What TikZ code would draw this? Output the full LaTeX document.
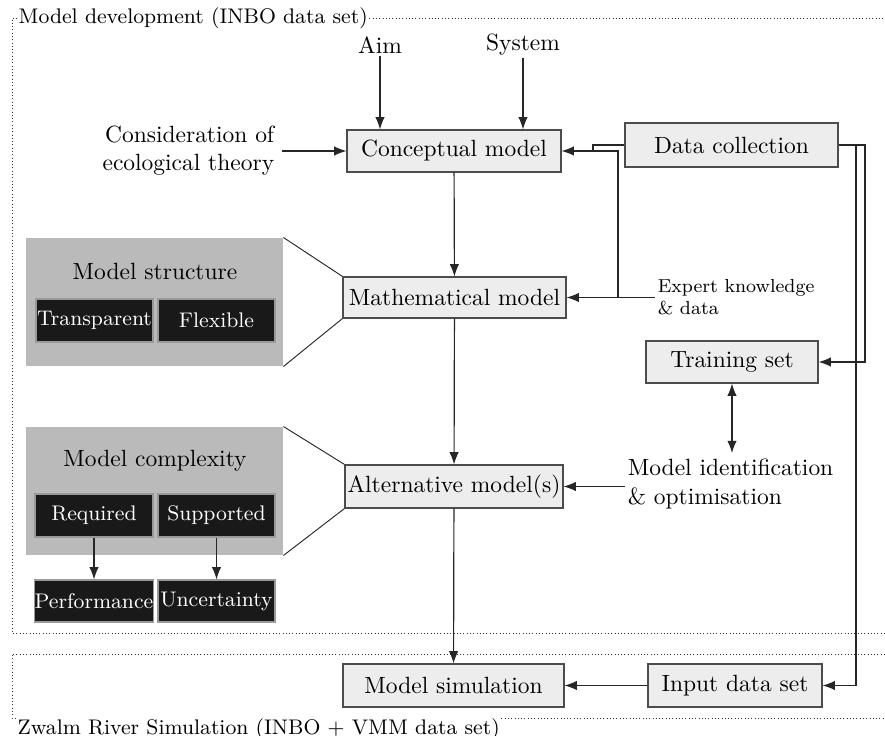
\documentclass[tikz,border=0pt]{standalone}
\usetikzlibrary{arrows.meta}
\newcommand{\pxu}[1]{#1*0.426pt}
\begin{document}
\begin{tikzpicture}[x=0.426pt,y=-0.426pt,
  box/.style={draw=black!70, fill=black!7, line width=0.5pt, inner sep=0pt, font=\normalsize},
  panel/.style={fill=black!27, draw=none, inner sep=0pt},
  dark/.style={fill=black!90, draw=black!40, line width=0.5pt, text=white, inner sep=0pt, font=\small},
  plain/.style={inner sep=1pt, font=\normalsize},
  tip/.tip={Latex[length=5.2pt,width=4pt]},
  arr/.style={-tip, line width=0.5pt, draw=black!85},
  conn/.style={line width=0.5pt, draw=black!85},
  frame/.style={densely dotted, line width=0.4pt, draw=black!80},
  ]
\useasboundingbox (0,0) rectangle (885,736);

% frames
\node[plain, font=\small, anchor=west, inner sep=0.5pt] (lab1) at (17,18) {Model development (INBO data set)};
\draw[frame] (lab1.west) -- (12,18) -- (12,633) -- (885,633);
\draw[frame] (lab1.east) -- (885,18);
\node[plain, font=\small, anchor=north west, inner sep=0.5pt] (lab2) at (16,717) {Zwalm River Simulation (INBO + VMM data set)};
\draw[frame] (885,654) -- (12,654) -- (12,718) -- (16,718);
\draw[frame] (lab2.north east) ++(0,1) -- (885,718);

% main boxes
\node[box, minimum width=\pxu{214}, minimum height=\pxu{42}] (cm) at (454,151) {Conceptual model};
\node[box, minimum width=\pxu{213}, minimum height=\pxu{44}] (dc) at (731.5,145) {Data collection};
\node[box, minimum width=\pxu{223}, minimum height=\pxu{41}] (mm) at (454.5,297.5) {Mathematical model};
\node[box, minimum width=\pxu{172}, minimum height=\pxu{42}] (ts) at (732,362) {Training set};
\node[box, minimum width=\pxu{218}, minimum height=\pxu{43}] (am) at (454,486.5) {Alternative model(s)};
\node[box, minimum width=\pxu{221}, minimum height=\pxu{43}] (ms) at (453.5,685.5) {Model simulation};
\node[box, minimum width=\pxu{174}, minimum height=\pxu{43}] (ids) at (735,685.5) {Input data set};

% text nodes
\node[plain] (aim) at (380,45) {Aim};
\node[plain] (sys) at (523,45) {System};
\node[plain, align=right, anchor=east] (th) at (277,151) {Consideration of\\ecological theory};
\node[plain, font=\footnotesize, align=left, anchor=west] (ek) at (655,297.5) {Expert knowledge\\\& data};
\node[plain, align=left, anchor=west] (mi) at (625,484) {Model identification\\\& optimisation};

% panels
\node[panel, minimum width=\pxu{257}, minimum height=\pxu{128}] (ps) at (154.5,302) {};
\node[plain] (pst) at (155,271) {Model structure};
\node[dark, minimum width=\pxu{117}, minimum height=\pxu{43}] (tr) at (94.5,320.5) {Transparent};
\node[dark, minimum width=\pxu{117}, minimum height=\pxu{43}] (fl) at (216.5,320.5) {Flexible};

\node[panel, minimum width=\pxu{257}, minimum height=\pxu{128}] (pc) at (154.5,491) {};
\node[plain] (pct) at (155,461) {Model complexity};
\node[dark, minimum width=\pxu{118}, minimum height=\pxu{43}] (rq) at (94,515.5) {Required};
\node[dark, minimum width=\pxu{117}, minimum height=\pxu{43}] (sp) at (216.5,515.5) {Supported};
\node[dark, minimum width=\pxu{118}, minimum height=\pxu{42}] (pf) at (94,601) {Performance};
\node[dark, minimum width=\pxu{117}, minimum height=\pxu{42}] (un) at (216.5,601) {Uncertainty};

% zoom lines
\draw[conn, line width=0.4pt] (ps.north east) -- (mm.north west);
\draw[conn, line width=0.4pt] (ps.south east) -- (mm.south west);
\draw[conn, line width=0.4pt] (pc.north east) -- (am.north west);
\draw[conn, line width=0.4pt] (pc.south east) -- (am.south west);

% arrows
\draw[arr] (aim.south) -- (aim.south |- cm.north);
\draw[arr] (sys.south) -- (sys.south |- cm.north);
\draw[arr] ([xshift=2pt]th.east) -- (th.east -| cm.west);
\draw[arr] (cm) -- (mm);
\draw[arr] (mm) -- (am);
\draw[arr] (am) -- (ms);

\coordinate (j1) at (593,151);
\coordinate (j2) at (618,151);
\draw[arr] (dc.west) -| (j1) -- (cm.east);
\draw[conn] (j1) -- (j2) -- (j2 |- mm.east);
\draw[arr] (ek.west) -- (ek.west -| mm.east);

\coordinate (r1) at (865,0);
\coordinate (r2) at (856,0);
\draw[arr] (dc.east) -| (r1 |- ts.east) -- (ts.east);
\draw[arr] (dc.east -| r2) |- (ids.east);

\draw[tip-tip, line width=0.5pt, draw=black!85] (ts.south) -- (ts.south |- 0,453);
\draw[arr] (mi.west |- am.east) -- (am.east);
\draw[arr] (ids.west) -- (ms.east);

\draw[arr] (rq.south) -- (pf.north);
\draw[arr] (sp.south) -- (un.north);
\end{tikzpicture}
\end{document}
